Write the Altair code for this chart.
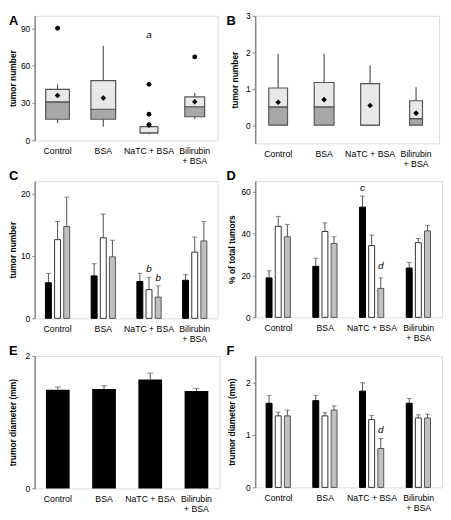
import altair as alt
import pandas as pd

cats = ["Control", "BSA", "NaTC + BSA", "Bilirubin + BSA"]
series = ["S1", "S2", "S3"]
fills = ["#000000", "#ffffff", "#c0c0c0"]
strokes = ["#000000", "#333333", "#555555"]

# Panel A (box plots)
a_lo = [14, 11, 5, 17]
a_q1 = [17, 17, 6, 19]
a_med = [31, 25, 6, 27]
a_q3 = [41, 48, 11, 35]
a_hi = [45, 76, 11, 38]
a_mean = [36, 34, 12.5, 31]
a_w = [24, 25, 18, 20]
a_out_cat = ["Control", "NaTC + BSA", "NaTC + BSA", "NaTC + BSA", "Bilirubin + BSA"]
a_out_val = [90, 45, 21, 12.4, 67]

# Panel B (box plots)
b_lo = [0, 0, 0, 0]
b_q1 = [0, 0, 0, 0]
b_med = [0.5, 0.5, 0, 0.18]
b_q3 = [1.02, 1.17, 1.14, 0.67]
b_hi = [1.96, 1.96, 1.64, 1.04]
b_mean = [0.63, 0.70, 0.54, 0.33]
b_w = [19, 20, 19, 13]

# Panel C
c_mean = [[5.7, 12.6, 14.7], [6.8, 12.9, 9.85], [5.9, 4.6, 3.4], [6.1, 10.6, 12.4]]
c_err = [[7.2, 15.5, 19.4], [8.75, 16.7, 12.5], [7.2, 6.56, 5.2], [7.0, 13.0, 15.5]]
c_ann = [("NaTC + BSA", "S2", 7.4, "b"), ("NaTC + BSA", "S3", 6.0, "b")]

# Panel D
d_mean = [[18.8, 43.4, 38.4], [24.3, 40.9, 35.2], [52.5, 34.2, 13.8], [23.5, 35.6, 41.2]]
d_err = [[22.2, 48.1, 44.3], [28.2, 45.0, 38.4], [57.8, 39.2, 18.8], [26.2, 37.6, 43.9]]
d_ann = [("NaTC + BSA", "S1", 60, "c"), ("NaTC + BSA", "S3", 23, "d")]

# Panel E
e_mean = [1.49, 1.50, 1.645, 1.47]
e_err = [1.53, 1.55, 1.74, 1.51]

# Panel F
f_mean = [[1.60, 1.36, 1.36], [1.65, 1.36, 1.47], [1.83, 1.29, 0.74], [1.60, 1.32, 1.32]]
f_err = [[1.75, 1.43, 1.47], [1.75, 1.42, 1.55], [1.99, 1.37, 0.93], [1.69, 1.38, 1.39]]
f_ann = [("NaTC + BSA", "S3", 1.04, "d")]

FONT = "Liberation Sans"
label_expr = "datum.value == 'Bilirubin + BSA' ? ['Bilirubin', '+ BSA'] : datum.value"


def xaxis():
    return alt.Axis(title=None, domain=False, ticks=False, labelAngle=0, labelPadding=6,
                    labelFontSize=8.8, labelExpr=label_expr, labelLineHeight=10,
                    labelColor="black", labelFont=FONT)


def yaxis(title, values, tx, h):
    return alt.Axis(title=title, values=values, format="d", tickSize=3, tickColor="#888",
                    domainColor="#888", domainWidth=1.5, labelFontSize=8.5, labelPadding=2,
                    labelColor="black", titleFontSize=8.5, titleFontWeight="bold",
                    titleColor="black", titleX=tx, titleY=h / 2, grid=False,
                    labelFont=FONT, titleFont=FONT)


def letter_layer(ch, lx, ly):
    return alt.Chart(pd.DataFrame({"t": [ch]})).mark_text(
        fontSize=13, fontWeight="bold", align="left", baseline="alphabetic", font=FONT, color="black"
    ).encode(text="t:N", x=alt.value(lx), y=alt.value(ly))


def box_panel(lo, q1, med, q3, hi, mean, w, domain, ticks, title, width, height, letter, lx, ly, tx,
              out_cat=None, out_val=None, ann=None):
    df = pd.DataFrame({"cat": cats, "lo": lo, "q1": q1, "med": med, "q3": q3, "hi": hi,
                       "mean": mean, "w": w})
    X = alt.X("cat:N", sort=cats, axis=xaxis(), scale=alt.Scale(paddingInner=0, paddingOuter=0))
    ysc = alt.Scale(domain=domain, nice=False, zero=False)
    base = alt.Chart(df)
    whisk = base.mark_rule(color="#555", strokeWidth=1.2).encode(
        x=X, y=alt.Y("lo:Q", scale=ysc, axis=yaxis(title, ticks, tx, height)), y2="hi:Q")
    lower = base.mark_bar(fill="#a8a8a8", stroke="#555", strokeWidth=1.2).encode(
        x=X, y="q1:Q", y2="med:Q", size=alt.Size("w:Q", scale=None, legend=None))
    upper = base.mark_bar(fill="#e8e8e8", stroke="#555", strokeWidth=1.2).encode(
        x=X, y="med:Q", y2="q3:Q", size=alt.Size("w:Q", scale=None, legend=None))
    mn = base.mark_point(shape="diamond", filled=True, color="black", size=32, opacity=1).encode(
        x=X, y="mean:Q")
    layers = [whisk, lower, upper, mn]
    if out_cat:
        odf = pd.DataFrame({"cat": out_cat, "val": out_val})
        layers.append(alt.Chart(odf).mark_circle(color="black", size=24, opacity=1).encode(
            x=X, y="val:Q"))
    if ann:
        adf = pd.DataFrame({"cat": [a[0] for a in ann], "y": [a[1] for a in ann], "t": [a[2] for a in ann]})
        layers.append(alt.Chart(adf).mark_text(fontSize=10, fontStyle="italic", font=FONT,
                                               baseline="alphabetic", color="black").encode(
            x=X, y="y:Q", text="t:N"))
    layers.append(letter_layer(letter, lx, ly))
    return alt.layer(*layers).properties(width=width, height=height)


def group_df(means, errs):
    rows = []
    for i, c in enumerate(cats):
        for j, s in enumerate(series):
            rows.append({"cat": c, "series": s, "mean": means[i][j], "err": errs[i][j]})
    return pd.DataFrame(rows)


def grouped_panel(means, errs, ann, domain, ticks, title, width, height, letter, lx, ly, tx):
    df = group_df(means, errs)
    X = alt.X("cat:N", sort=cats, axis=xaxis(), scale=alt.Scale(paddingInner=0.4, paddingOuter=0.2))
    XO = alt.XOffset("series:N", sort=series, scale=alt.Scale(paddingInner=0.35, paddingOuter=0.175))
    ysc = alt.Scale(domain=domain, nice=False, zero=False)
    base = alt.Chart(df).encode(x=X, xOffset=XO)
    err = base.mark_rule(color="#555", strokeWidth=1).encode(
        y=alt.Y("mean:Q", scale=ysc, axis=yaxis(title, ticks, tx, height)), y2="err:Q")
    cap = base.mark_tick(orient="horizontal", size=5, thickness=1, color="#555").encode(y="err:Q")
    bars = base.mark_bar(strokeWidth=1).encode(
        y="mean:Q",
        fill=alt.Fill("series:N", scale=alt.Scale(domain=series, range=fills), legend=None),
        stroke=alt.Stroke("series:N", scale=alt.Scale(domain=series, range=strokes), legend=None))
    layers = [err, cap, bars]
    if ann:
        adf = pd.DataFrame({"cat": [a[0] for a in ann], "series": [a[1] for a in ann],
                            "y": [a[2] for a in ann], "t": [a[3] for a in ann]})
        layers.append(alt.Chart(adf).mark_text(fontSize=10, fontStyle="italic", font=FONT,
                                               baseline="alphabetic", color="black").encode(
            x=X, xOffset=XO, y="y:Q", text="t:N"))
    layers.append(letter_layer(letter, lx, ly))
    return alt.layer(*layers).properties(width=width, height=height)


def single_panel(means, errs, domain, ticks, title, width, height, letter, lx, ly, tx):
    df = pd.DataFrame({"cat": cats, "mean": means, "err": errs})
    X = alt.X("cat:N", sort=cats, axis=xaxis(), scale=alt.Scale(paddingInner=0, paddingOuter=0))
    ysc = alt.Scale(domain=domain, nice=False, zero=False)
    base = alt.Chart(df).encode(x=X)
    err = base.mark_rule(color="#555", strokeWidth=1).encode(
        y=alt.Y("mean:Q", scale=ysc, axis=yaxis(title, ticks, tx, height)), y2="err:Q")
    cap = base.mark_tick(orient="horizontal", size=6, thickness=1, color="#555").encode(y="err:Q")
    bars = base.mark_bar(size=24, color="black").encode(y="mean:Q")
    return alt.layer(err, cap, bars, letter_layer(letter, lx, ly)).properties(width=width, height=height)


A = box_panel(a_lo, a_q1, a_med, a_q3, a_hi, a_mean, a_w, [0, 100], [0, 30, 60, 90], "tumor number",
              185, 126, "A", -26, 9, -17, a_out_cat, a_out_val, [("NaTC + BSA", 82, "a")])
B = box_panel(b_lo, b_q1, b_med, b_q3, b_hi, b_mean, b_w, [-0.5, 3], [0, 1, 2, 3], "tumor number",
              186, 129, "B", -29, 9, -16)
C = grouped_panel(c_mean, c_err, c_ann, [0, 22], [0, 10, 20], "tumor number", 185, 139, "C", -26, -1, -17)
D = grouped_panel(d_mean, d_err, d_ann, [0, 65], [0, 20, 40, 60], "% of total tumors", 189, 138, "D", -29, -1, -19)
E = single_panel(e_mean, e_err, [0, 2], [0, 1, 2], "trumor diameter (mm)", 187, 134, "E", -26, -1, -17)
F = grouped_panel(f_mean, f_err, f_ann, [0, 2.5], [0, 1, 2], "trumor diameter (mm)", 189, 133, "F", -29, -1, -19)

chart = alt.concat(A, B, C, D, E, F, columns=2).properties(
    spacing={"row": 38, "column": 36}, bounds="flush", align="each",
    padding={"left": 0, "top": 0, "right": 0, "bottom": 0}
).configure_view(stroke="#888", strokeWidth=1.5).configure(font=FONT)

chart.save("out.html", embed_options={"renderer": "svg", "actions": False})
